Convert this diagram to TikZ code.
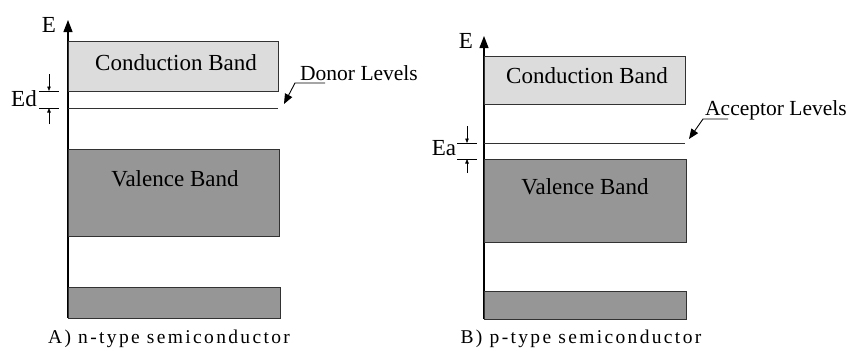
\documentclass[tikz,border=0pt]{standalone}
\usepackage{fontspec}
\setmainfont{Liberation Serif}
\newfontfamily\capfont[LetterSpace=12]{Liberation Serif}
\usetikzlibrary{arrows.meta,positioning}

\definecolor{cbgray}{RGB}{220,220,220}
\definecolor{vbgray}{RGB}{150,150,150}
\definecolor{edgegray}{RGB}{50,50,50}

\tikzset{
    band/.style={draw=edgegray, line width=1.2pt, anchor=north west, inner sep=0pt},
    cband/.style={band, fill=cbgray},
    vband/.style={band, fill=vbgray},
    bandtext/.style={font=\fontsize{23}{25}\selectfont, inner sep=0pt},
    leveltext/.style={font=\fontsize{21.5}{24}\selectfont, inner sep=0pt, anchor=base west},
    captext/.style={font=\capfont\fontsize{19.5}{21}\selectfont, inner sep=0pt, anchor=base},
    level/.style={draw=edgegray, line width=1pt},
    axis/.style={line width=1.2pt, -{Triangle[length=12pt,width=9pt]}},
    leader/.style={line width=0.9pt, -{Triangle[length=10pt,width=8pt]}},
    gaparrow/.style={line width=0.7pt, -{Triangle[length=4.5pt,width=3.5pt]}},
    tickline/.style={line width=0.9pt}
}

\begin{document}
\begin{tikzpicture}[x=1pt,y=-1pt]
    \useasboundingbox (0,0) rectangle (849,348);

    % A) n 型半导体
    \coordinate (oA) at (68,318); % 坐标轴底
    \coordinate (tA) at (68,20);  % 坐标轴顶
    \draw[axis] (oA) -- (tA);
    \node[bandtext, anchor=base] (eA) at (49,32) {E};

    \node[cband, minimum width=210pt, minimum height=50pt] (cbA) at (68,41) {}; % 导带
    \node[bandtext, anchor=base] (cbtA) at (176,70.5) {Conduction Band};
    \node[vband, minimum width=211pt, minimum height=87pt] (vbA) at (68,149) {}; % 价带
    \node[bandtext, anchor=base] (vbtA) at (175,186.5) {Valence Band};
    \node[vband, minimum width=212pt, minimum height=31pt] (lbA) at (68,287) {}; % 下面的带

    \coordinate (dlA) at (68,108);
    \coordinate (drA) at (278,108);
    \draw[level] (dlA) -- (drA); % 施主能级

    % Ed 标注
    \draw[tickline] (39,91) -- (59,91);
    \draw[tickline] (39,108) -- (59,108);
    \draw[gaparrow] (49,74) -- (49,91);
    \draw[gaparrow] (49,124) -- (49,108);
    \node[bandtext] (edA) at (24,99) {Ed};

    \node[leveltext] (donA) at (300,80) {Donor Levels};
    \coordinate (dsA) at (325,83);
    \coordinate (dkA) at (295,83);
    \coordinate (dhA) at (284,104);
    \draw[leader] (dsA) -- (dkA) -- (dhA);

    \node[captext] (capA) at (169,343) {A) n-type semiconductor};

    % 移动到右侧: B) p 型半导体
    \begin{scope}[xshift=416pt]
        \coordinate (oB) at (68,319);
        \coordinate (tB) at (68,36);
        \draw[axis] (oB) -- (tB);
        \node[bandtext, anchor=base] (eB) at (50,48) {E};

        \node[cband, minimum width=201pt, minimum height=48pt] (cbB) at (68,56) {}; % 导带
        \node[bandtext, anchor=base] (cbtB) at (171,83) {Conduction Band};
        \node[vband, minimum width=202pt, minimum height=83pt] (vbB) at (68,159) {}; % 价带
        \node[bandtext, anchor=base] (vbtB) at (169,194) {Valence Band};
        \node[vband, minimum width=202pt, minimum height=28pt] (lbB) at (68,291) {}; % 下面的带

        \coordinate (alB) at (68,143);
        \coordinate (arB) at (269,143);
        \draw[level] (alB) -- (arB); % 受主能级

        % Ea 标注
        \draw[tickline] (41,143) -- (61,143);
        \draw[tickline] (41,159) -- (61,159);
        \draw[gaparrow] (51,126) -- (51,143);
        \draw[gaparrow] (51,173) -- (51,159);
        \node[bandtext] (eaB) at (28,148) {Ea};

        \node[leveltext] (accB) at (289,115) {Acceptor Levels};
        \coordinate (asB) at (312,119);
        \coordinate (akB) at (287,119);
        \coordinate (ahB) at (273,139);
        \draw[leader] (asB) -- (akB) -- (ahB);

        \node[captext] (capB) at (165,343) {B) p-type semiconductor};
    \end{scope}

\end{tikzpicture}
\end{document}
